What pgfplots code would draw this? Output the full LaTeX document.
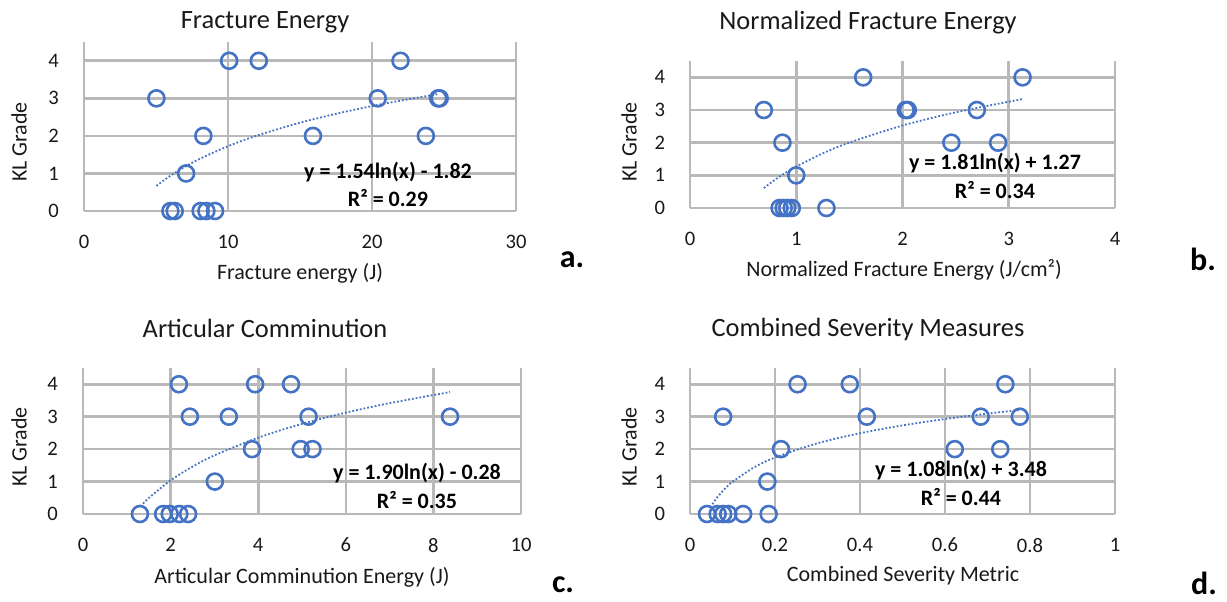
\documentclass[border=0pt]{standalone}
\usepackage{pgfplots}
\pgfplotsset{compat=1.18}
\usepackage{fontspec}
\setmainfont{Carlito}
\definecolor{mblue}{RGB}{68,114,196}
\definecolor{gridc}{RGB}{185,185,185}
\definecolor{txt}{RGB}{25,25,25}
\newcommand{\fs}[1]{\fontsize{#1}{#1}\selectfont}
\pgfplotsset{panel/.style={
  scale only axis, anchor=south west,
  ymin=0, ymax=4.5, ytick={0,1,2,3,4},
  grid=major, major grid style={line width=1.3pt, color=gridc},
  axis line style={draw=none}, major tick length=0pt,
  tick label style={font=\fs{10.3pt}, text=txt},
  /pgf/number format/assume math mode=true,
  xticklabel style={yshift=-8.5pt}, yticklabel style={xshift=-9pt},
  clip=false},
  pts/.style={only marks, mark=o, mark size=4pt, mark options={line width=1.3pt, draw=mblue}},
  trend/.style={no marks, smooth, densely dotted, line width=0.9pt, color=mblue}
}
\begin{document}
\begin{tikzpicture}
\useasboundingbox (0,0) rectangle (1227*0.5pt,-601*0.5pt);
% ---- a ----
\begin{axis}[panel, at={(84*0.5pt,-211*0.5pt)}, width=432*0.5pt, height=169*0.5pt,
  xmin=0, xmax=30, xtick={0,10,20,30}]
\addplot[pts] table {
x y
10.08 4
12.14 4
21.98 4
5.03 3
20.4 3
24.6 3
24.7 3
8.29 2
15.9 2
23.74 2
7.09 1
6.0 0
6.3 0
8.1 0
8.5 0
9.1 0
};
\addplot[trend] coordinates {(5.03,0.67)(5.5,0.805)(6,0.939)(7,1.177)(8,1.382)(10,1.726)(12,2.007)(15,2.351)(18,2.631)(21,2.869)(24.65,3.116)};
\end{axis}
% ---- b ----
\begin{axis}[panel, at={(690*0.5pt,-208*0.5pt)}, width=425*0.5pt, height=147*0.5pt,
  xmin=0, xmax=4, xtick={0,1,2,3,4}]
\addplot[pts] table {
x y
1.63 4
3.13 4
0.695 3
2.03 3
2.05 3
2.70 3
0.87 2
2.46 2
2.90 2
1.0 1
0.843 0
0.882 0
0.915 0
0.958 0
1.284 0
};
\addplot[trend] coordinates {(0.695,0.611)(0.8,0.866)(0.9,1.079)(1.0,1.27)(1.25,1.674)(1.5,2.004)(2.0,2.525)(2.5,2.928)(3.13,3.335)};
\end{axis}
% ---- c ----
\begin{axis}[panel, at={(83*0.5pt,-514*0.5pt)}, width=438*0.5pt, height=146*0.5pt,
  xmin=0, xmax=10, xtick={0,2,4,6,8,10}]
\addplot[pts] table {
x y
2.19 4
3.93 4
4.75 4
2.44 3
3.33 3
5.15 3
8.38 3
3.86 2
4.97 2
5.24 2
3.01 1
1.30 0
1.83 0
1.98 0
2.20 0
2.40 0
};
\addplot[trend] coordinates {(1.31,0.233)(1.5,0.490)(2,1.037)(2.5,1.461)(3,1.807)(4,2.354)(5,2.778)(6,3.124)(7,3.417)(8.38,3.759)};
\end{axis}
% ---- d ----
\begin{axis}[panel, at={(690*0.5pt,-514*0.5pt)}, width=425*0.5pt, height=146*0.5pt,
  xmin=0, xmax=1, xtick={0,0.2,0.4,0.6,0.8,1}]
\addplot[pts] table {
x y
0.253 4
0.376 4
0.742 4
0.078 3
0.416 3
0.684 3
0.776 3
0.214 2
0.623 2
0.730 2
0.182 1
0.040 0
0.065 0
0.078 0
0.090 0
0.125 0
0.185 0
};
\addplot[trend] coordinates {(0.0526,0.30)(0.06,0.442)(0.07,0.608)(0.085,0.818)(0.1,0.993)(0.15,1.431)(0.2,1.742)(0.3,2.180)(0.4,2.490)(0.5,2.731)(0.6,2.928)(0.7,3.095)(0.776,3.206)};
\end{axis}
% ---- titles and labels ----
\begin{scope}[every node/.style={text=txt}]
\node[font=\fs{13.2pt}] at (265*0.5pt,-22*0.5pt) {Fracture Energy};
\node[font=\fs{13.2pt}] at (868*0.5pt,-23*0.5pt) {Normalized Fracture Energy};
\node[font=\fs{13.2pt}] at (265*0.5pt,-328*0.5pt) {Articular Comminution};
\node[font=\fs{13.2pt}] at (868*0.5pt,-329*0.5pt) {Combined Severity Measures};
\node[font=\fs{11pt}] at (300*0.5pt,-273*0.5pt) {Fracture energy (J)};
\node[font=\fs{11pt}] at (904*0.5pt,-270*0.5pt) {Normalized Fracture Energy (J/cm²)};
\node[font=\fs{11pt}] at (302*0.5pt,-577*0.5pt) {Articular Comminution Energy (J)};
\node[font=\fs{11pt}] at (903*0.5pt,-576*0.5pt) {Combined Severity Metric};
\node[font=\fs{11pt}, rotate=90] at (19*0.5pt,-142*0.5pt) {KL Grade};
\node[font=\fs{11pt}, rotate=90] at (629*0.5pt,-142*0.5pt) {KL Grade};
\node[font=\fs{11pt}, rotate=90] at (19*0.5pt,-447*0.5pt) {KL Grade};
\node[font=\fs{11pt}, rotate=90] at (629*0.5pt,-447*0.5pt) {KL Grade};
\end{scope}
\begin{scope}[every node/.style={text=black, font=\fs{11pt}\bfseries}]
\node at (388*0.5pt,-172*0.5pt) {y = 1.54ln(x) - 1.82};
\node at (388*0.5pt,-198*0.5pt) {R² = 0.29};
\node at (995*0.5pt,-163*0.5pt) {y = 1.81ln(x) + 1.27};
\node at (995*0.5pt,-190*0.5pt) {R² = 0.34};
\node at (417*0.5pt,-473*0.5pt) {y = 1.90ln(x) - 0.28};
\node at (417*0.5pt,-500*0.5pt) {R² = 0.35};
\node at (961*0.5pt,-470*0.5pt) {y = 1.08ln(x) + 3.48};
\node at (961*0.5pt,-497*0.5pt) {R² = 0.44};
\end{scope}
\begin{scope}[every node/.style={text=black, font=\fs{16pt}\bfseries}]
\node at (572*0.5pt,-260*0.5pt) {a.};
\node at (1203*0.5pt,-259*0.5pt) {b.};
\node at (563*0.5pt,-585*0.5pt) {c.};
\node at (1204*0.5pt,-583*0.5pt) {d.};
\end{scope}
\end{tikzpicture}
\end{document}
